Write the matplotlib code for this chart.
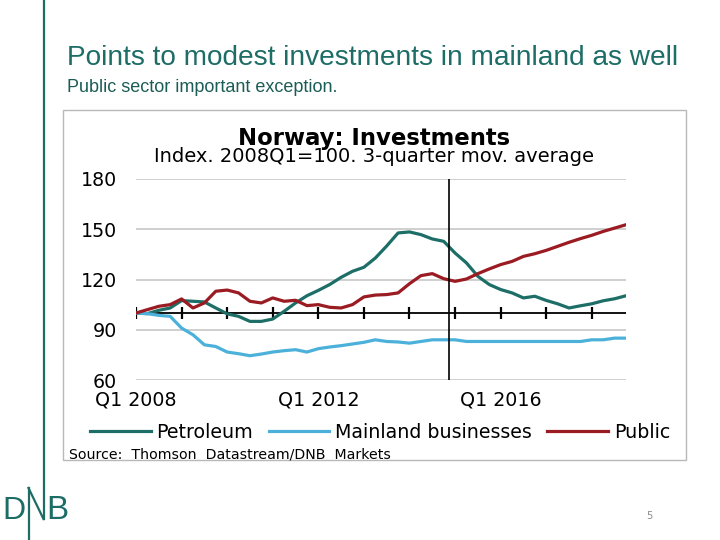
import matplotlib
matplotlib.use("Agg")
import matplotlib.pyplot as plt
from matplotlib.patches import Rectangle
from matplotlib.lines import Line2D
import numpy as np

# ---------------- data ----------------
years = list(range(2008, 2019))
quarter_labels = [f"Q{q} {y}" for y in years for q in (1, 2, 3, 4)]
petroleum = [100, 99.6, 101.6, 103, 107.4, 107, 106.6, 103, 99.5, 98, 95, 95,
             96.4, 101, 106, 110.3, 113.5, 117, 121.3, 124.9, 127.3, 132.8, 140,
             147.8, 148.4, 146.8, 144.2, 142.8, 135.8, 129.9, 121.9, 117, 114, 112,
             109, 110, 107.5, 105.5, 103, 104.3, 105.5, 107.3, 108.5, 110.3]
mainland = [100, 99.6, 98.6, 98, 91, 87, 81, 80, 76.7, 75.7, 74.5, 75.5,
            76.7, 77.5, 78.1, 76.7, 78.7, 79.7, 80.5, 81.5, 82.5, 84, 83,
            82.7, 82, 83, 84, 84, 84, 83, 83, 83, 83, 83,
            83, 83, 83, 83, 83, 83, 84, 84, 85, 85]
public = [100, 102, 104, 105, 108.4, 103, 106, 113, 113.7, 112, 107, 106,
          109, 107, 107.6, 104.4, 105, 103.4, 103, 105, 109.6, 110.7, 111,
          112, 117.5, 122.3, 123.5, 120.5, 118.9, 120.3, 123.5, 126.3, 128.9, 130.8,
          133.8, 135.4, 137.4, 139.8, 142.2, 144.4, 146.4, 148.7, 150.7, 152.7]
series_names = ["Petroleum", "Mainland businesses", "Public"]
y_ticks = [60, 90, 120, 150, 180]
label_every = 16       # quarters between x labels
tick_every = 4         # quarters between baseline ticks
base_value = 100
forecast_start = 27.5  # position of vertical divider (between 2014Q4 and 2015Q1)

title = "Points to modest investments in mainland as well"
subtitle = "Public sector important exception."
chart_title = "Norway: Investments"
chart_subtitle = "Index. 2008Q1=100. 3-quarter mov. average"
source = "Source:  Thomson  Datastream/DNB  Markets"
page_no = "5"

colors = ["#1c6e67", "#4cb1da", "#9a1b22"]
teal = "#1d6d66"

# ---------------- figure ----------------
W, H = 720, 540
fig = plt.figure(figsize=(W / 100, H / 100), dpi=100)
fig.patch.set_facecolor("white")


def fx(px):
    return px / W


def fy(py):
    return 1 - py / H


renderer = fig.canvas.get_renderer()


def fit_width(t, target):
    bb = t.get_window_extent(renderer=renderer)
    t.set_fontsize(t.get_fontsize() * target / bb.width)


# slide decorations
fig.add_artist(Line2D([fx(43.5), fx(43.5)], [fy(0), fy(519)], color=teal, lw=1.6))
# DNB logo
fig.add_artist(Line2D([fx(28.5), fx(28.5)], [fy(488), fy(540)], color=teal, lw=1.6))
fig.add_artist(Line2D([fx(28.5), fx(43.5)], [fy(488), fy(519)], color=teal, lw=1.6))
logo_family = ["Liberation Sans Narrow", "Liberation Sans"]
tD = fig.text(fx(14.3), fy(519), "D", color=teal, ha="center", va="baseline",
              family=logo_family, fontsize=29)
fit_width(tD, 23)
tB = fig.text(fx(57), fy(519), "B", color=teal, ha="center", va="baseline",
              family=logo_family, fontsize=29)
fit_width(tB, 22)

t1 = fig.text(fx(67), fy(58), title, color=teal, ha="left", va="center",
              family=["Liberation Sans Narrow", "Liberation Sans"], fontsize=20)
fit_width(t1, 609)
t2 = fig.text(fx(67), fy(87), subtitle, color="#1b5d56", ha="left", va="center",
              family=["Liberation Sans Narrow", "Liberation Sans"], fontsize=12)
fit_width(t2, 271)
fig.text(fx(649), fy(516), page_no, color="#8a8a8a", ha="center", va="center",
         fontsize=7, family="DejaVu Sans")

# chart box
fig.add_artist(Rectangle((fx(63), fy(460)), (686 - 63) / W, (460 - 110) / H,
                         transform=fig.transFigure, facecolor="white",
                         edgecolor="#b8b8b8", lw=1.0, zorder=0))

ct = fig.text(fx(374), fy(138), chart_title, ha="center", va="center",
              fontsize=15, fontweight="bold", family="DejaVu Sans", color="black")
fit_width(ct, 273)
cs = fig.text(fx(374), fy(157), chart_subtitle, ha="center", va="center",
              fontsize=13, family="DejaVu Sans", color="black")
fit_width(cs, 439)
src = fig.text(fx(69), fy(454), source, ha="left", va="center",
               fontsize=9, family="DejaVu Sans", color="black")
fit_width(src, 320)

# axes
ax = fig.add_axes([fx(136), fy(380), (626 - 136) / W, (380 - 179) / H])
ax.patch.set_alpha(0)
x = np.arange(len(petroleum))
ax.set_xlim(x[0], x[-1])
ax.set_ylim(y_ticks[0], y_ticks[-1])
for s in ax.spines.values():
    s.set_visible(False)
ax.set_yticks(y_ticks)
ax.set_yticklabels([str(v) for v in y_ticks])
ax.yaxis.grid(True, color="#cfcfcf", lw=1.4)
ax.set_axisbelow(True)
lab_pos = x[::label_every]
ax.set_xticks(lab_pos)
ax.set_xticklabels([quarter_labels[i] for i in lab_pos])
ax.tick_params(axis="both", length=0, labelsize=13.7, colors="black")
ax.tick_params(axis="y", pad=13.5)
ax.tick_params(axis="x", pad=7.5)
for lbl in ax.get_xticklabels() + ax.get_yticklabels():
    lbl.set_family("DejaVu Sans")

# baseline with ticks
ax.axhline(base_value, color="black", lw=1.3, zorder=2)
tick_pos = x[::tick_every]
ax.plot(tick_pos, np.full(len(tick_pos), base_value), ls="none", marker="|",
        ms=8, mew=1.6, color="black", zorder=2)
ax.axvline(forecast_start, color="black", lw=1.2, zorder=4)

handles = []
for vals, name, c in zip([petroleum, mainland, public], series_names, colors):
    h, = ax.plot(x, vals, color=c, lw=2.3, label=name, zorder=3,
                 solid_joinstyle="round")
    handles.append(h)

fig.legend(handles=handles, loc="center", bbox_to_anchor=(fx(380), fy(432)),
           ncol=3, frameon=False, prop={"family": "DejaVu Sans", "size": 13.7},
           handlelength=3.2, handletextpad=0.3, columnspacing=0.8,
           borderpad=0, borderaxespad=0)

fig.savefig("out.png", dpi=100, facecolor="white")
